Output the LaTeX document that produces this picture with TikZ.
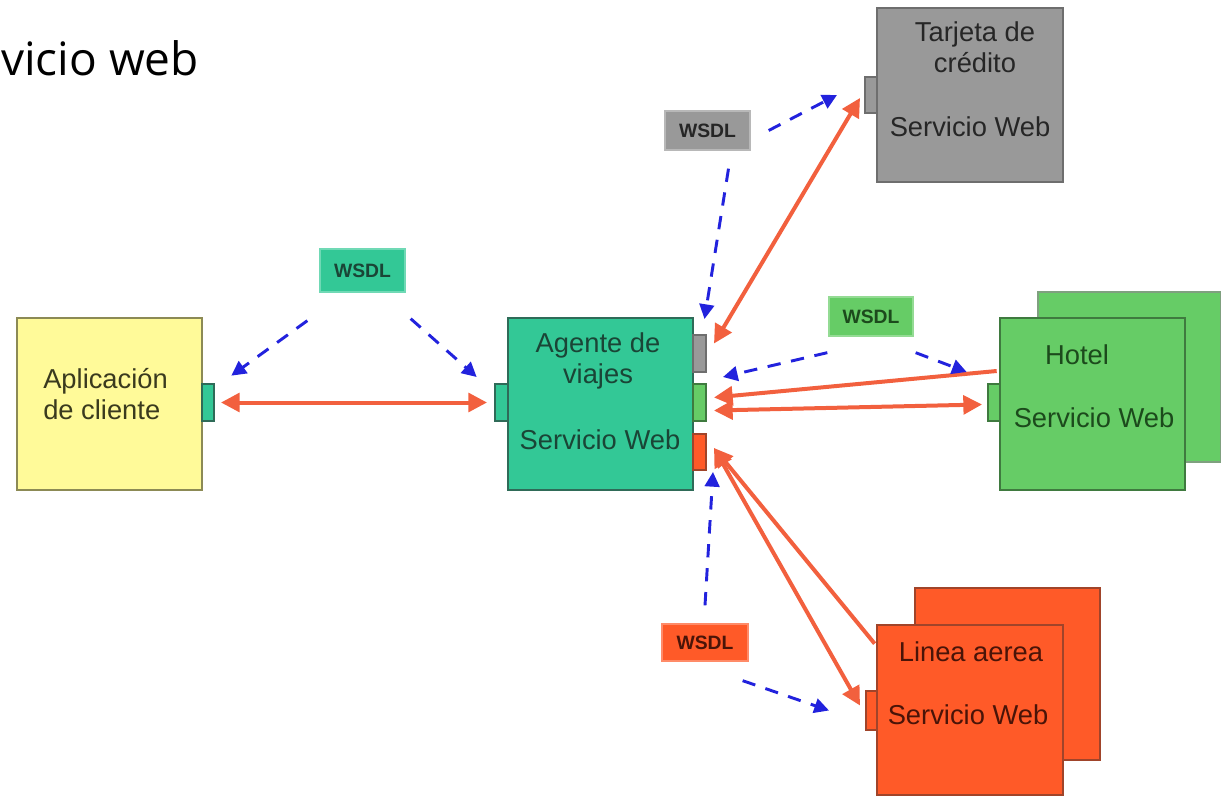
\documentclass[tikz,border=0pt]{standalone}
\usepackage{fontspec}
\setmainfont{Liberation Sans}
\newfontfamily\titlefont{Open Sans}
\usetikzlibrary{fit,calc,arrows.meta}
\definecolor{yfill}{HTML}{FFFA99}
\definecolor{ydraw}{HTML}{8C8A55}
\definecolor{ytext}{HTML}{3A3A1E}
\definecolor{tfill}{HTML}{33C896}
\definecolor{tdraw}{HTML}{2F6B58}
\definecolor{ttext}{HTML}{1A4536}
\definecolor{gfill}{HTML}{999999}
\definecolor{gdraw}{HTML}{6E6E6E}
\definecolor{gtext}{HTML}{262626}
\definecolor{hfill}{HTML}{66CC66}
\definecolor{hdraw}{HTML}{3F7A3F}
\definecolor{hback}{HTML}{7FA07F}
\definecolor{htext}{HTML}{1C4A1C}
\definecolor{ofill}{HTML}{FF5A28}
\definecolor{odraw}{HTML}{A0442A}
\definecolor{otext}{HTML}{4A1408}
\definecolor{rline}{HTML}{F2603E}
\definecolor{bline}{HTML}{2222DD}
\begin{document}
\begin{tikzpicture}[x=0.75pt,y=-0.75pt,
  boxst/.style={draw=#1, line width=2pt, inner sep=0pt},
  portst/.style={draw=#1, line width=1.5pt, inner sep=0pt},
  lblst/.style={inner sep=0pt, align=center, font=\fontsize{20.5}{23}\selectfont},
  wsdlst/.style={inner sep=0pt, draw=#1, line width=1pt},
  wtext/.style={font=\fontsize{14.5}{16}\selectfont\bfseries, inner sep=0pt},
  rarr/.style={draw=rline, line width=3pt, {Triangle[length=14pt,width=14pt]}-{Triangle[length=14pt,width=14pt]}},
  rone/.style={draw=rline, line width=3pt, {Triangle[length=14pt,width=14pt]}-},
  barr/.style={draw=bline, line width=2.2pt, dash pattern=on 10pt off 8pt, -{Triangle[length=11pt,width=11pt]}}
]
\useasboundingbox (0,0) rectangle (1221,796);

% title
\node[anchor=base west, inner sep=0pt, font=\titlefont\fontsize{34.5}{36}\selectfont] (title) at (1,75) {vicio web};

% Aplicacion de cliente
\node[boxst=ydraw, fill=yfill, fit={(17,318) (202,490)}] (app) {};
\node[portst=tdraw, fill=tfill, fit={(202,384) (214,421)}] (appport) {};
\node[lblst, align=left, text=ytext, anchor=north west] (applbl) at (43,368) {Aplicación\\de cliente};

% Agente de viajes
\node[boxst=tdraw, fill=tfill, fit={(508,318) (693,490)}] (ag) {};
\node[portst=tdraw, fill=tfill, fit={(495,384) (508,421)}] (agLport) {};
\node[portst=gdraw, fill=gfill, fit={(693,335) (706,372)}] (agGport) {};
\node[portst=hdraw, fill=hfill, fit={(693,384) (706,421)}] (agGrport) {};
\node[portst=odraw, fill=ofill, fit={(693,434) (706,470)}] (agRport) {};
\node[lblst, text=ttext] (aglbl) at (598,361) {Agente de\\viajes};
\node[lblst, text=ttext] (agsw) at (600,440) {Servicio Web};

% Tarjeta de credito
\node[boxst=gdraw, fill=gfill, fit={(877,8) (1063,182)}] (tj) {};
\node[portst=gdraw, fill=gfill, fit={(865,77) (877,113)}] (tjport) {};
\node[lblst, text=gtext] (tjlbl) at (975,47) {Tarjeta de\\crédito};
\node[lblst, text=gtext] (tjsw) at (970,127) {Servicio Web};

% Hotel
\node[boxst=hback, fill=hfill, fit={(1038,292) (1221,462)}] (hback) {};
\node[boxst=hdraw, fill=hfill, fit={(1000,318) (1185,490)}] (hfront) {};
\node[portst=hdraw, fill=hfill, fit={(988,384) (1000,421)}] (hport) {};
\node[lblst, text=htext] (hlbl) at (1077,355) {Hotel};
\node[lblst, text=htext] (hsw) at (1094,418) {Servicio Web};

% Linea aerea
\node[boxst=odraw, fill=ofill, fit={(915,588) (1100,760)}] (aback) {};
\node[boxst=odraw, fill=ofill, fit={(877,625) (1063,795)}] (afront) {};
\node[portst=odraw, fill=ofill, fit={(866,691) (877,730)}] (aport) {};
\node[lblst, text=otext] (albl) at (971,652) {Linea aerea};
\node[lblst, text=otext] (asw) at (968,715) {Servicio Web};

% WSDL labels
\node[wsdlst=tfill!70!white, fill=tfill, fit={(320,249) (405,292)}] (wsdlA) {};
\node[wtext, text=ttext] at (wsdlA) {WSDL};
\node[wsdlst=gfill!70!white, fill=gfill, fit={(665,111) (750,150)}] (wsdlG) {};
\node[wtext, text=gtext] at (wsdlG) {WSDL};
\node[wsdlst=hfill!70!white, fill=hfill, fit={(829,297) (913,336)}] (wsdlH) {};
\node[wtext, text=htext] at (wsdlH) {WSDL};
\node[wsdlst=ofill!70!white, fill=ofill, fit={(662,624) (748,661)}] (wsdlO) {};
\node[wtext, text=otext] at (wsdlO) {WSDL};

% red solid arrows
\draw[rarr] ($(appport.east)+(6,0)$) -- ($(agLport.west)+(-7,0)$);
\draw[rarr] ($(agGport.east)+(7,-10)$) -- ($(tjport.west)+(-4,3)$);
\draw[rone] ($(agGrport.east)+(7,-5)$) -- ($(hfront.west)+(-2,-33)$);
\draw[rarr] ($(agGrport.east)+(7,8)$) -- ($(hport.west)+(-5,2)$);
\draw[rarr] ($(agRport.east)+(7,-4)$) -- ($(aport.west)+(-5,-5)$);
\draw[rone] ($(agRport.east)+(7,-4)$) -- ($(afront.north west)+(-1,20)$);

% blue dashed arrows
\draw[barr] ($(wsdlA.south west)+(-12,28)$) -- ($(app.north east)+(28,59)$);
\draw[barr] ($(wsdlA.south east)+(5,26)$) -- ($(ag.west)+(-30,-27)$);
\draw[barr] ($(wsdlG.south)+(21,18)$) -- ($(agGport.north)+(5,-15)$);
\draw[barr] ($(wsdlG.east)+(18,0)$) -- ($(tjport.west)+(-27,0)$);
\draw[barr] ($(wsdlH.south west)+(-1,16)$) -- ($(agGrport.north east)+(16,-6)$);
\draw[barr] ($(wsdlH.south east)+(2,16)$) -- ($(hfront.west)+(-32,-32)$);
\draw[barr] ($(wsdlO.north)+(0,-18)$) -- ($(agRport.south east)+(6,1)$);
\draw[barr] ($(wsdlO.south east)+(-6,19)$) -- ($(aport.west)+(-36,0)$);
\end{tikzpicture}
\end{document}
